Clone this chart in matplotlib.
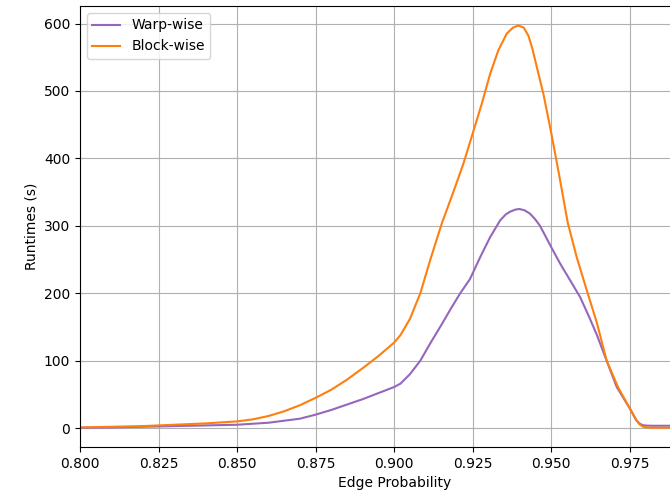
import numpy as np
import matplotlib
matplotlib.use("Agg")
import matplotlib.pyplot as plt

# values
warp_x = [0.800, 0.810, 0.820, 0.830, 0.840, 0.850, 0.860, 0.870, 0.875, 0.880,
          0.885, 0.890, 0.895, 0.900, 0.902, 0.905, 0.9083, 0.9115, 0.9150, 0.9180,
          0.9210, 0.9241, 0.9273, 0.9305, 0.9337, 0.9355, 0.9369, 0.9385, 0.9398, 0.9415,
          0.9432, 0.9448, 0.9464, 0.9500, 0.9528, 0.9560, 0.9592, 0.9623, 0.9645, 0.9676,
          0.9708, 0.9750, 0.9770, 0.9780, 0.9790, 0.9800, 0.9820, 0.9850, 0.9900]
warp_y = [0.5, 1, 2, 3, 4, 5, 8, 14, 20, 27,
          35, 43, 52, 61, 66, 80, 100, 126, 153, 177,
          200, 221, 253, 283, 308, 317, 321, 324, 325, 323,
          318, 310, 300, 268, 244, 219, 194, 162, 138, 100,
          61, 29, 12, 7, 4.5, 3.8, 3.5, 3.5, 3.5]

block_x = [0.800, 0.810, 0.820, 0.830, 0.840, 0.850, 0.855, 0.860, 0.865, 0.870,
           0.875, 0.880, 0.885, 0.890, 0.895, 0.900, 0.902, 0.905, 0.9083, 0.9115,
           0.9151, 0.9188, 0.9220, 0.9249, 0.9278, 0.9305, 0.9331, 0.9358, 0.9378, 0.9395,
           0.9412, 0.9427, 0.9440, 0.9454, 0.9475, 0.9500, 0.9525, 0.9552, 0.9581, 0.9613,
           0.9645, 0.9676, 0.9713, 0.9750, 0.9770, 0.9780, 0.9790, 0.9800, 0.9820, 0.9850,
           0.9900]
block_y = [1, 2, 3, 5, 7, 10, 13, 18, 25, 34,
           45, 57, 72, 89, 107, 127, 138, 162, 200, 250,
           303, 350, 392, 436, 480, 525, 560, 585, 594, 597,
           594, 582, 562, 535, 495, 437, 375, 305, 253, 204,
           156, 100, 60, 29, 12, 6, 2.5, 1.2, 0.7, 0.6,
           0.6]

fig = plt.figure(figsize=(6.7, 5.04), dpi=100)
ax = fig.add_axes([0.1194, 0.1131, 0.938, 0.875])

ax.plot(warp_x, warp_y, color='tab:purple', label='Warp-wise')
ax.plot(block_x, block_y, color='tab:orange', label='Block-wise')

ax.set_xlim(0.8, 1.0)
ax.set_ylim(-28, 626)
ax.set_xticks([0.800, 0.825, 0.850, 0.875, 0.900, 0.925, 0.950, 0.975])
ax.grid(True)
ax.set_xlabel('Edge Probability')
ax.set_ylabel('Runtimes (s)')
ax.legend(loc='upper left')

plt.savefig('out.png', dpi=100)
